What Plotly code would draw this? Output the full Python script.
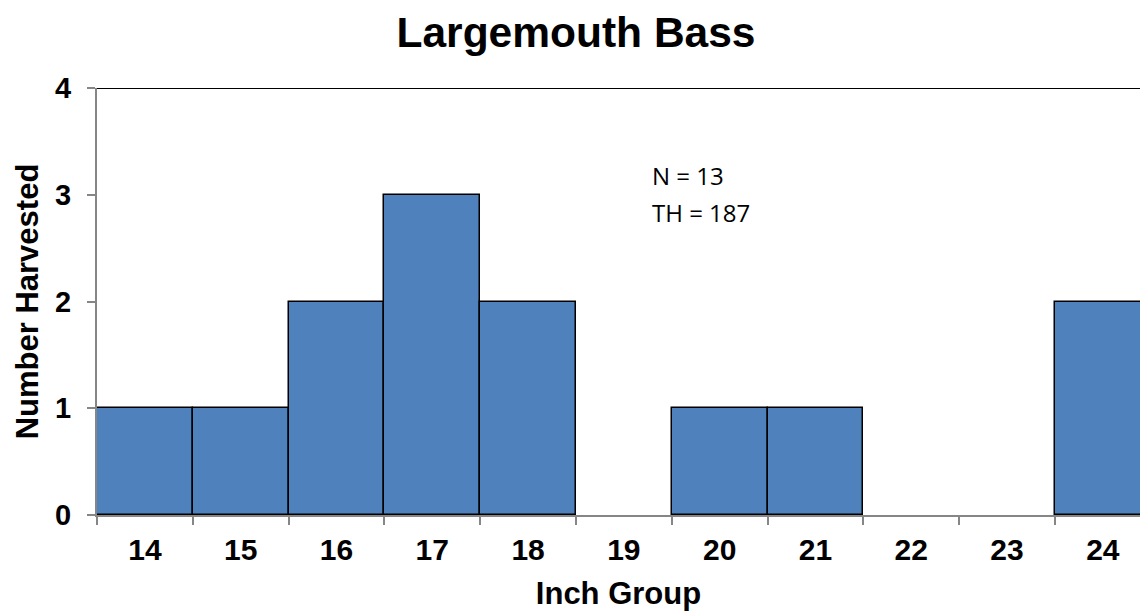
import plotly.graph_objects as go

# Harvest counts by inch group
inch_groups = ["14", "15", "16", "17", "18", "19", "20", "21", "22", "23", "24"]
harvested = [1, 1, 2, 3, 2, 0, 1, 1, 0, 0, 2]
y_ticks = [0, 1, 2, 3, 4]
summary_lines = ["N = 13", "TH = 187"]

BAR_BLUE = "#4F81BD"
AXIS_GRAY = "#868686"
FONT = "Arial, Liberation Sans, sans-serif"

# empty groups get no bar (avoids a flat outline along the axis)
bar_heights = [v if v else None for v in harvested]

fig = go.Figure(
    go.Bar(
        x=inch_groups,
        y=bar_heights,
        width=1.0,
        marker=dict(color=BAR_BLUE, line=dict(color="black", width=1.5)),
        hoverinfo="skip",
    )
)

fig.update_layout(
    width=1140,
    height=613,
    margin=dict(l=97, r=0, t=88, b=98),
    paper_bgcolor="white",
    plot_bgcolor="white",
    showlegend=False,
    bargap=0,
    title=dict(
        text="<b>Largemouth Bass</b>",
        font=dict(family=FONT, size=42.5, color="black"),
        x=576 / 1140,
        xanchor="center",
        y=1 - 32 / 613,
        yanchor="middle",
        yref="container",
    ),
)

fig.update_xaxes(
    type="category",
    categoryorder="array",
    categoryarray=inch_groups,
    range=[-0.5, 10.388],
    tickvals=inch_groups,
    ticktext=[f"<b>{g}</b>" for g in inch_groups],
    tickson="boundaries",
    ticks="outside",
    ticklen=8,
    tickwidth=1.5,
    tickcolor=AXIS_GRAY,
    tickfont=dict(family=FONT, size=30, color="black"),
    ticklabelstandoff=7,
    showline=True,
    linecolor=AXIS_GRAY,
    linewidth=2,
    showgrid=False,
    zeroline=False,
    title=dict(
        text="<b>Inch Group</b>",
        font=dict(family=FONT, size=31, color="black"),
        standoff=17,
    ),
)

fig.update_yaxes(
    range=[0, 4],
    tickmode="array",
    tickvals=y_ticks,
    ticktext=[f"<b>{v}</b>" for v in y_ticks],
    ticks="outside",
    ticklen=8,
    tickwidth=1.5,
    tickcolor=AXIS_GRAY,
    tickfont=dict(family=FONT, size=29, color="black"),
    ticklabelstandoff=10,
    showline=True,
    linecolor=AXIS_GRAY,
    linewidth=2,
    showgrid=False,
    zeroline=False,
    title=dict(
        text="<b>Number Harvested</b>",
        font=dict(family=FONT, size=31, color="black"),
        standoff=7,
    ),
)

# Top border of the plot area
fig.add_shape(
    type="line", xref="paper", yref="y",
    x0=0, x1=1, y0=4, y1=4,
    line=dict(color="black", width=2),
)

# Summary text, one line per annotation for Excel-like spacing
for line_text, y_val in zip(summary_lines, [3.185, 2.83]):
    fig.add_annotation(
        x=5.27, y=y_val, xref="x", yref="y",
        text=line_text,
        showarrow=False,
        xanchor="left", yanchor="middle",
        align="left",
        font=dict(family="Open Sans, Liberation Sans, sans-serif", size=24, color="black"),
    )

fig.write_html("out.html")
